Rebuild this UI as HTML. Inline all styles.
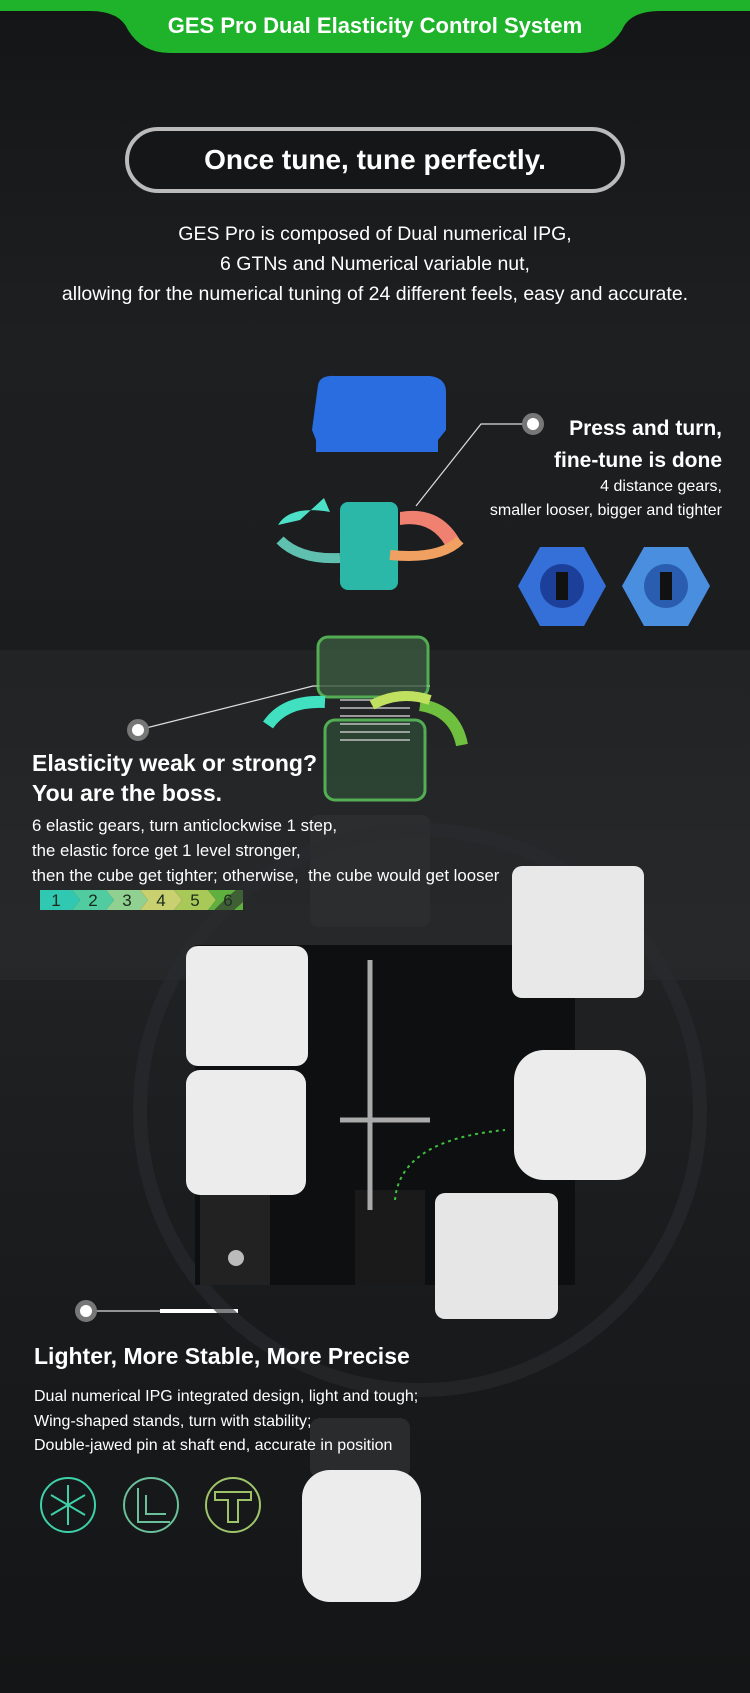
<!DOCTYPE html>
<html><head><meta charset="utf-8"><style>
*{margin:0;padding:0;box-sizing:border-box}
body{width:750px;height:1693px;overflow:hidden;background:#17191b;font-family:"Liberation Sans",sans-serif;color:#fff;position:relative}
.bg{position:absolute;left:0;top:0;width:750px;height:1693px;background:linear-gradient(180deg,#141516 0%,#1d1f21 20%,#1a1c1e 40%,#202224 55%,#191b1d 75%,#141516 100%)}
.band{position:absolute;left:0;top:650px;width:750px;height:330px;background:rgba(255,255,255,0.03)}
.t{position:absolute;white-space:nowrap}
.dot{position:absolute;width:22px;height:22px;border-radius:50%;background:#fff;border:5px solid #777}
</style></head><body>
<div class="bg"></div><div class="band"></div>
<svg style="position:absolute;left:0;top:0" width="750" height="1693">
<path d="M0 0H750V11H660Q630 11 622 30Q608 53 580 53H170Q142 53 128 30Q120 11 90 11H0Z" fill="#1eb32a"/>
<rect x="127" y="129" width="496" height="62" rx="31" fill="#151617" stroke="#bbb" stroke-width="4"/>
<g stroke="#ddd" stroke-width="1.2" fill="none">
<polyline points="533,424 481,424 416,506"/>
<polyline points="138,730 313,686 430,686"/>
<polyline points="86,1311 160,1311"/>
</g>
<rect x="160" y="1309" width="78" height="4" fill="#fff"/>
<!-- blue cap -->
<path d="M318 385Q320 375 335 376H430Q446 378 446 392V430L438 440V452H316V440L312 430Z" fill="#2a6de0"/>
<!-- teal piece -->
<rect x="340" y="502" width="58" height="88" rx="8" fill="#2bb8a8"/>
<path d="M278 525Q290 505 330 512L324 498L300 520Z" fill="#4de0c8"/>
<path d="M400 512Q440 505 460 540L445 545Q430 520 400 525Z" fill="#f08070"/>
<path d="M390 555Q440 560 460 540" stroke="#f0a060" stroke-width="10" fill="none"/>
<path d="M280 540Q300 560 340 558" stroke="#60c0b0" stroke-width="10" fill="none"/>
<!-- hexes -->
<polygon points="540,547 584,547 606,586 584,626 540,626 518,586" fill="#3570d8"/>
<circle cx="562" cy="586" r="22" fill="#1c3f9a"/><rect x="556" y="572" width="12" height="28" fill="#111"/>
<polygon points="644,547 688,547 710,586 688,626 644,626 622,586" fill="#4a8ee0"/>
<circle cx="666" cy="586" r="22" fill="#2a5cb0"/><rect x="660" y="572" width="12" height="28" fill="#111"/>
<!-- spring piece -->
<rect x="318" y="637" width="110" height="60" rx="10" fill="#3a5a40" stroke="#5fd060" stroke-width="3" opacity="0.8"/>
<rect x="325" y="720" width="100" height="80" rx="10" fill="#2e4a36" stroke="#5fd060" stroke-width="3" opacity="0.8"/>
<g stroke="#ccc" stroke-width="2" fill="none" opacity="0.7"><path d="M340 700H410M340 708H410M340 716H410M340 724H410M340 732H410M340 740H410"/></g>
<path d="M268 725Q285 700 325 702" stroke="#40e0c0" stroke-width="12" fill="none"/>
<path d="M420 705Q455 710 462 745" stroke="#70c040" stroke-width="12" fill="none"/>
<path d="M372 705Q400 690 430 700" stroke="#c0e060" stroke-width="10" fill="none"/>
<rect x="310" y="815" width="120" height="112" rx="8" fill="#2c2d2f"/>
<!-- steps -->
<g font-family="Liberation Sans" font-size="17" fill="#1a2a1a" text-anchor="middle">
<polygon points="40,890 72,890 80,900 72,910 40,910" fill="#30c8b0"/>
<polygon points="72,890 106,890 114,900 106,910 72,910 80,900" fill="#50cca0"/>
<polygon points="106,890 140,890 148,900 140,910 106,910 114,900" fill="#90d090"/>
<polygon points="140,890 174,890 182,900 174,910 140,910 148,900" fill="#c8d070"/>
<polygon points="174,890 208,890 216,900 208,910 174,910 182,900" fill="#a8c858"/>
<polygon points="208,890 243,890 243,910 208,910 216,900" fill="#60b040"/>
<text x="56" y="906">1</text><text x="93" y="906">2</text><text x="127" y="906">3</text><text x="161" y="906">4</text><text x="195" y="906">5</text><text x="228" y="906">6</text>
</g>
<!-- cube -->
<circle cx="420" cy="1110" r="280" fill="none" stroke="#2a2c2e" stroke-width="14" opacity="0.6"/>
<rect x="195" y="945" width="380" height="340" fill="#0e0f10"/>
<rect x="200" y="1190" width="70" height="95" fill="#222" />
<rect x="355" y="1190" width="70" height="95" fill="#1a1a1a"/>
<rect x="186" y="946" width="122" height="120" rx="12" fill="#ececec"/>
<rect x="186" y="1070" width="120" height="125" rx="14" fill="#ececec"/>
<rect x="512" y="866" width="132" height="132" rx="10" fill="#e8e8e8"/>
<rect x="514" y="1050" width="132" height="130" rx="30" fill="#ececec"/>
<rect x="435" y="1193" width="123" height="126" rx="10" fill="#e6e6e6"/>
<line x1="370" y1="960" x2="370" y2="1210" stroke="#aaa" stroke-width="5"/>
<line x1="340" y1="1120" x2="430" y2="1120" stroke="#aaa" stroke-width="5"/>
<path d="M395 1200Q400 1140 505 1130" stroke="#40c040" stroke-width="2" stroke-dasharray="3 4" fill="none"/>
<circle cx="236" cy="1258" r="8" fill="#bbb"/>
<!-- icons -->
<g fill="none" stroke="#3ed0a8" stroke-width="2">
<circle cx="68" cy="1505" r="27"/>
<path d="M68 1485V1525M51 1495L85 1515M51 1515L85 1495"/>
</g>
<g fill="none" stroke="#6ac09a" stroke-width="2"><circle cx="151" cy="1505" r="27"/><path d="M138 1488V1522H170M146 1495V1514H166"/></g>
<g fill="none" stroke="#9ec46a" stroke-width="2"><circle cx="233" cy="1505" r="27"/><path d="M215 1492H251V1500H238V1522H228V1500H215Z"/></g>
<!-- bottom piece -->
<rect x="310" y="1418" width="100" height="60" rx="10" fill="#2a2b2c"/>
<rect x="302" y="1470" width="119" height="132" rx="28" fill="#ececec"/>
</svg>
<div class="t" style="left:0;width:750px;top:13px;text-align:center;font-size:22px;font-weight:bold">GES Pro Dual Elasticity Control System</div>
<div class="t" style="left:127px;width:496px;top:144px;text-align:center;font-size:28px;font-weight:bold">Once tune, tune perfectly.</div>
<div class="t" style="left:0;width:750px;top:219px;text-align:center;font-size:19.5px;line-height:30px">GES Pro is composed of Dual numerical IPG,<br>6 GTNs and Numerical variable nut,<br>allowing for the numerical tuning of 24 different feels, easy and accurate.</div>
<div class="dot" style="left:522px;top:413px"></div>
<div class="t" style="right:28px;top:413px;text-align:right;font-size:21px;font-weight:bold;line-height:32px">Press and turn,<br>fine-tune is done</div>
<div class="t" style="right:28px;top:475px;text-align:right;font-size:16px;line-height:24px">4 distance gears,<br>smaller looser, bigger and tighter</div>
<div class="dot" style="left:127px;top:719px"></div>
<div class="t" style="left:32px;top:748px;font-size:23px;font-weight:bold;line-height:30px">Elasticity weak or strong?<br>You are the boss.</div>
<div class="t" style="left:32px;top:813px;font-size:16.8px;line-height:25px">6 elastic gears, turn anticlockwise 1 step,<br>the elastic force get 1 level stronger,<br>then the cube get tighter; otherwise,&nbsp; the cube would get looser</div>
<div class="dot" style="left:75px;top:1300px"></div>
<div class="t" style="left:34px;top:1343px;font-size:23px;font-weight:bold">Lighter, More Stable, More Precise</div>
<div class="t" style="left:34px;top:1385px;font-size:16px;line-height:24.5px">Dual numerical IPG integrated design, light and tough;<br>Wing-shaped stands, turn with stability;<br>Double-jawed pin at shaft end, accurate in position</div>
</body></html>
